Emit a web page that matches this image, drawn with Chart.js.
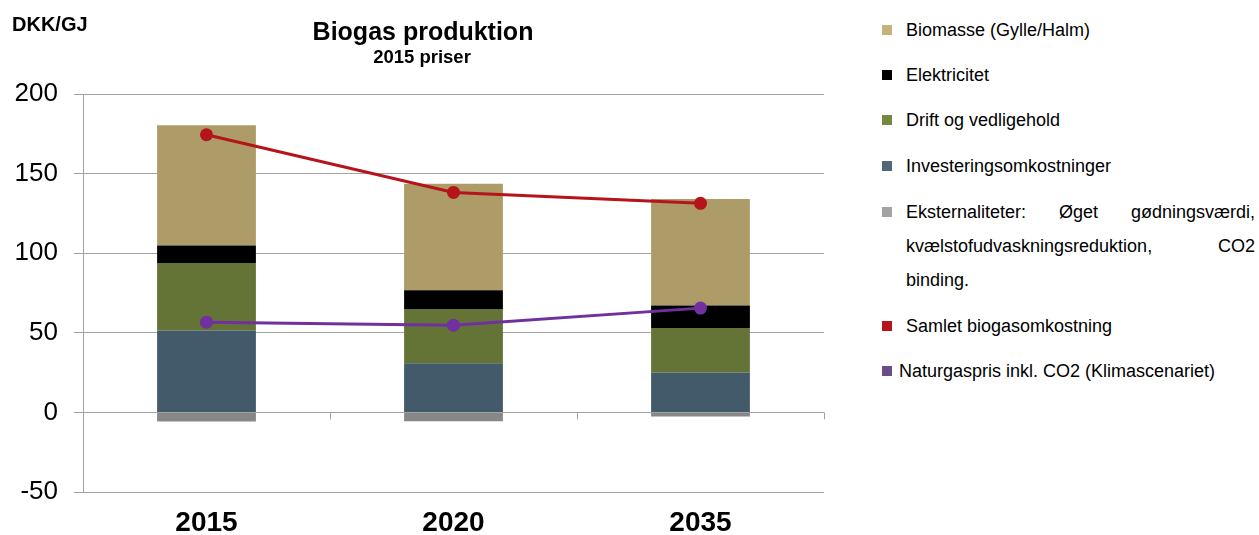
<!DOCTYPE html>
<html>
<head>
<meta charset="utf-8">
<script src="https://cdn.jsdelivr.net/npm/chart.js@4/dist/chart.umd.min.js"></script>
<style>
  html, body { margin: 0; padding: 0; background: #fff; }
  body { width: 1259px; height: 535px; position: relative; overflow: hidden; font-family: "Liberation Sans", Arial, sans-serif; }
  #wrap { position: absolute; left: 0; top: 0; width: 840px; height: 535px; }
  #legend { position: absolute; left: 882px; top: 0; width: 373px; height: 535px; }
  .item { position: absolute; left: 0; width: 373px; font-size: 18px; color: #000; }
  .item .sw { position: absolute; left: 0; width: 10px; height: 10px; }
  .item .txt { position: absolute; left: 24px; right: 0; line-height: 34px; text-align: justify; text-align-last: left; }
</style>
</head>
<body>
<div id="wrap"><canvas id="c" width="840" height="535"></canvas></div>
<div id="legend"></div>
<script>
  var years = ['2015', '2020', '2035'];

  // stacked cost components, DKK/GJ
  var investering = [51.5, 30.8, 25.1];
  var drift = [42.3, 34.1, 27.9];
  var elektricitet = [11.1, 11.9, 14.2];
  var biomasse = [75.4, 66.8, 66.8];
  var eksternaliteter = [-5.7, -5.5, -2.5];

  // lines
  var samlet = [174.4, 138.2, 131.3];
  var naturgas = [56.7, 54.8, 65.5];

  var yTicks = { min: -50, max: 200, step: 50 };

  var legendItems = [
    { text: 'Biomasse (Gylle/Halm)', color: '#c4b27a', y: 30 },
    { text: 'Elektricitet', color: '#000000', y: 75 },
    { text: 'Drift og vedligehold', color: '#76873f', y: 120 },
    { text: 'Investeringsomkostninger', color: '#4f6779', y: 166 },
    { text: 'Eksternaliteter: Øget gødningsværdi, kvælstofudvaskningsreduktion, CO2 binding.', color: '#a3a3a3', y: 212 },
    { text: 'Samlet biogasomkostning', color: '#b5161c', y: 326 },
    { text: 'Naturgaspris inkl. CO2 (Klimascenariet)', color: '#6b4c8a', y: 371, textLeft: 17 }
  ];

  var FONT = '"Liberation Sans", Arial, sans-serif';
  var GRID = '#a3a3a3';

  // header texts and the small tick marks on the zero line
  var extras = {
    id: 'extras',
    afterDraw: function(chart) {
      var ctx = chart.ctx;
      var x = chart.scales.x, y = chart.scales.y;
      var y0 = y.getPixelForValue(0);
      ctx.save();
      ctx.strokeStyle = GRID;
      ctx.lineWidth = 1;
      var w = (x.right - x.left) / years.length;
      for (var i = 1; i <= years.length; i++) {
        var px = Math.round(x.left + w * i) + 0.5;
        ctx.beginPath();
        ctx.moveTo(px, y0);
        ctx.lineTo(px, y0 + 7);
        ctx.stroke();
      }
      ctx.fillStyle = '#000';
      ctx.textBaseline = 'middle';
      ctx.textAlign = 'center';
      ctx.font = 'bold 25px ' + FONT;
      ctx.fillText('Biogas produktion', 423, 33);
      ctx.font = 'bold 18.5px ' + FONT;
      ctx.fillText('2015 priser', 422, 58);
      ctx.textAlign = 'left';
      ctx.font = 'bold 20px ' + FONT;
      ctx.fillText('DKK/GJ', 12, 25);
      ctx.restore();
    }
  };

  function bar(label, data, color) {
    return { type: 'bar', label: label, data: data, backgroundColor: color, borderWidth: 0, stack: 'cost', order: 2 };
  }
  function line(label, data, color, stack) {
    return {
      type: 'line', label: label, data: data, stack: stack, order: 0,
      borderColor: color, backgroundColor: color, borderWidth: 3,
      pointRadius: 6.5, pointBackgroundColor: color, pointBorderWidth: 0,
      fill: false, tension: 0
    };
  }

  new Chart(document.getElementById('c').getContext('2d'), {
    data: {
      labels: years,
      datasets: [
        bar('Investeringsomkostninger', investering, '#435a6b'),
        bar('Drift og vedligehold', drift, '#647336'),
        bar('Elektricitet', elektricitet, '#000000'),
        bar('Biomasse (Gylle/Halm)', biomasse, '#ad9c67'),
        bar('Eksternaliteter', eksternaliteter, '#878787'),
        line('Samlet biogasomkostning', samlet, '#b5141a', 's1'),
        line('Naturgaspris inkl. CO2 (Klimascenariet)', naturgas, '#7030a0', 's2')
      ]
    },
    options: {
      responsive: false,
      animation: false,
      devicePixelRatio: 1,
      categoryPercentage: 0.4,
      barPercentage: 1,
      layout: { padding: { top: 94, right: 16, left: 0, bottom: 0 } },
      plugins: { legend: { display: false }, tooltip: { enabled: false } },
      scales: {
        x: {
          stacked: true,
          grid: { display: false, drawTicks: false },
          border: { display: false },
          ticks: { color: '#000', font: { family: FONT, size: 28, weight: 'bold' }, padding: 14 },
          afterFit: function(s) { s.height = 43; }
        },
        y: {
          stacked: true,
          min: yTicks.min, max: yTicks.max,
          grid: { color: GRID, lineWidth: 1, tickLength: 9 },
          border: { color: GRID, width: 1 },
          ticks: { stepSize: yTicks.step, color: '#000', padding: 16, font: { family: FONT, size: 26 } },
          afterFit: function(s) { s.width = 83; }
        }
      }
    },
    plugins: [extras]
  });

  // legend beside the chart
  var box = document.getElementById('legend');
  legendItems.forEach(function(it) {
    var d = document.createElement('div');
    d.className = 'item';
    d.style.top = '0px';
    var sw = document.createElement('div');
    sw.className = 'sw';
    sw.style.background = it.color;
    sw.style.top = (it.y - 5) + 'px';
    var t = document.createElement('div');
    t.className = 'txt';
    t.style.top = (it.y - 17) + 'px';
    if (it.textLeft) t.style.left = it.textLeft + 'px';
    t.textContent = it.text;
    d.appendChild(sw);
    d.appendChild(t);
    box.appendChild(d);
  });
</script>
</body>
</html>
